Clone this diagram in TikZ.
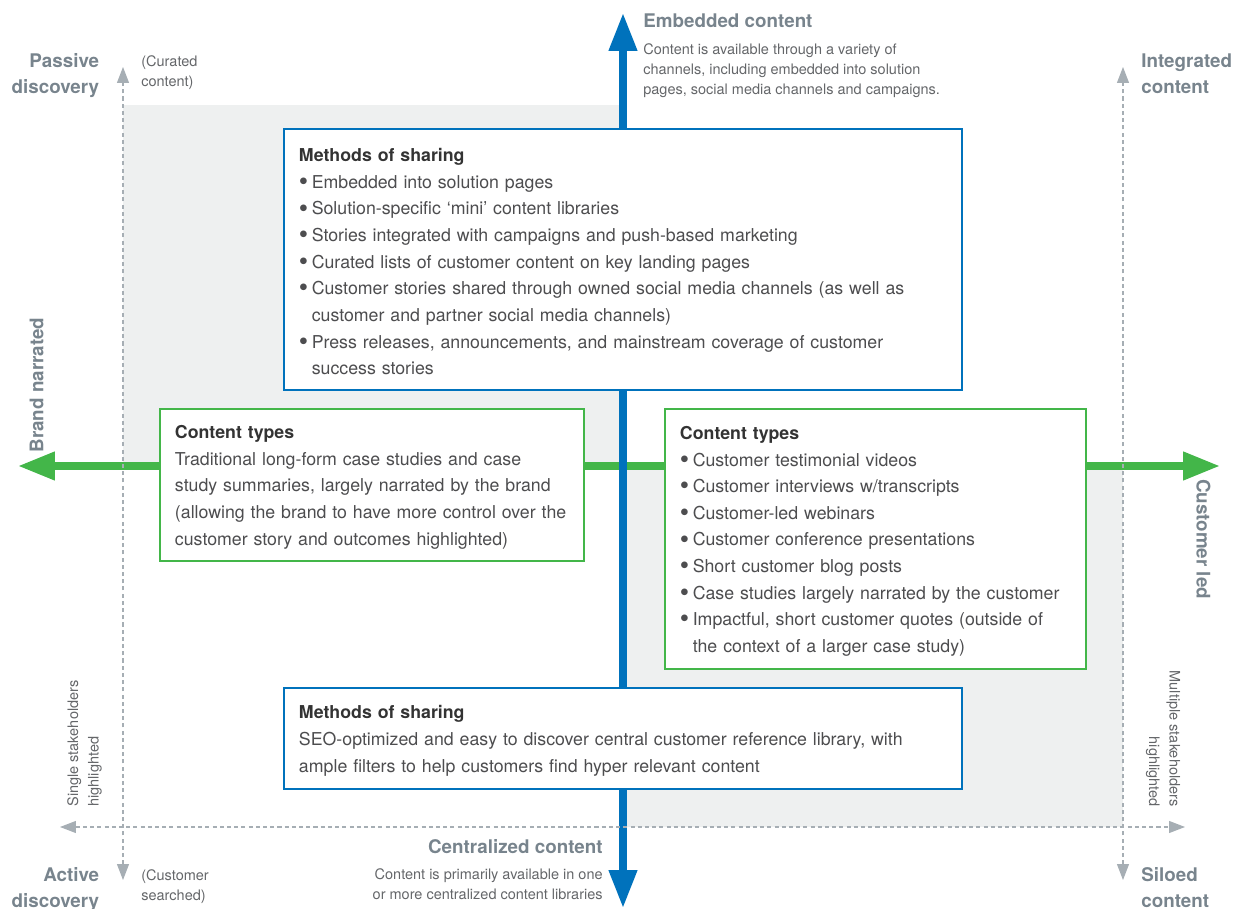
\documentclass[tikz,border=0pt]{standalone}
\usepackage{fontspec}
\setmainfont{TeX Gyre Heros}
\usetikzlibrary{arrows.meta}

\definecolor{shareblue}{RGB}{0,114,188}
\definecolor{typegreen}{RGB}{67,182,73}
\definecolor{quadgray}{RGB}{238,240,240}
\definecolor{guidegray}{RGB}{166,174,180}
\definecolor{axislabel}{RGB}{120,132,141}
\definecolor{notetext}{RGB}{100,102,105}
\definecolor{bodytext}{RGB}{77,77,79}
\definecolor{headtext}{RGB}{51,51,51}

\newcommand{\bul}{\makebox[0.72em][l]{\raisebox{-1.2pt}{\scalebox{1.5}{\textbullet}}}}
\newcommand{\bulskip}{\hspace*{0.72em}}
\newcommand{\boxtitle}[1]{\rule{0pt}{1em}\textcolor{headtext}{\bfseries #1}}

\tikzset{
	axis label/.style={text=axislabel, inner sep=0pt, font=\fontsize{10.7}{14.8}\selectfont\bfseries},
	note/.style={text=notetext, inner sep=0pt, font=\fontsize{8.25}{11.6}\selectfont},
	textbox/.style={draw, line width=1.3pt, fill=white, inner xsep=0.3cm, inner ysep=0pt,
		align=left, text=bodytext, font=\fontsize{10.1}{15.15}\selectfont},
	sharebox/.style={textbox, draw=shareblue},
	typebox/.style={textbox, draw=typegreen},
	shareaxis/.style={shareblue, line width=0.15cm,
		{Triangle[length=0.76cm,width=0.54cm]}-{Triangle[length=0.76cm,width=0.54cm]}},
	typeaxis/.style={typegreen, line width=0.15cm,
		{Triangle[length=0.74cm,width=0.54cm]}-{Triangle[length=0.74cm,width=0.54cm]}},
	guide/.style={guidegray, line width=0.6pt, dash pattern=on 2.3pt off 1.8pt,
		{Triangle[length=0.32cm,width=0.24cm]}-{Triangle[length=0.32cm,width=0.24cm]}}
}

\begin{document}
\begin{tikzpicture}
	\useasboundingbox (-12.46,-8.86) rectangle (12.50,9.32);

%% Quadrant shading
	\fill[quadgray] (-10,0) rectangle (0,7.22);
	\fill[quadgray] (0,0) rectangle (10,-7.22);

%% Axis end points
	\coordinate (brandtip) at (-12.1,0);
	\coordinate (customertip) at (11.94,0);
	\coordinate (embeddedtip) at (0,9.06);
	\coordinate (centraltip) at (0,-8.84);
	\coordinate (passivetip) at (-10,7.98);
	\coordinate (activetip) at (-10,-8.28);
	\coordinate (integratedtip) at (10,7.98);
	\coordinate (siloedtip) at (10,-8.28);
	\coordinate (singletip) at (-11.26,-7.22);
	\coordinate (multipletip) at (11.24,-7.22);

%% Axes
	\draw[typeaxis] (brandtip) -- (customertip);
	\draw[shareaxis] (centraltip) -- (embeddedtip);
	\draw[guide] (activetip) -- (passivetip);
	\draw[guide] (siloedtip) -- (integratedtip);
	\draw[guide] (singletip) -- (multipletip);

%% Methods of sharing
	\draw (0,4.13) node[sharebox, minimum width=13.56cm, minimum height=5.22cm, text width=12.96cm] (embeddedshare) {%
		\boxtitle{Methods of sharing}\\
		\bul Embedded into solution pages\\
		\bul Solution-specific ‘mini’ content libraries\\
		\bul Stories integrated with campaigns and push-based marketing\\
		\bul Curated lists of customer content on key landing pages\\
		\bul Customer stories shared through owned social media channels (as well as\\
		\bulskip customer and partner social media channels)\\
		\bul Press releases, announcements, and mainstream coverage of customer\\
		\bulskip success stories};
	\draw (0,-5.45) node[sharebox, minimum width=13.56cm, minimum height=2.02cm, text width=12.96cm] (centralshare) {%
		\boxtitle{Methods of sharing}\\
		SEO-optimized and easy to discover central customer reference library, with\\
		ample filters to help customers find hyper relevant content};

%% Content types
	\draw (-5.02,-0.38) node[typebox, minimum width=8.48cm, minimum height=3.04cm, text width=7.88cm] (brandtypes) {%
		\boxtitle{Content types}\\
		Traditional long-form case studies and case\\
		study summaries, largely narrated by the brand\\
		(allowing the brand to have more control over the\\
		customer story and outcomes highlighted)};
	\draw (5.05,-1.46) node[typebox, minimum width=8.42cm, minimum height=5.2cm, text width=7.82cm] (customertypes) {%
		\boxtitle{Content types}\\
		\bul Customer testimonial videos\\
		\bul Customer interviews w/transcripts\\
		\bul Customer-led webinars\\
		\bul Customer conference presentations\\
		\bul Short customer blog posts\\
		\bul Case studies largely narrated by the customer\\
		\bul Impactful, short customer quotes (outside of\\
		\bulskip the context of a larger case study)};

%% Axis labels
	\draw (-10.47,8.26) node[axis label, anchor=north east, align=right] (passive) {Passive\\discovery};
	\draw (-9.64,8.22) node[note, anchor=north west, align=left] (curated) {(Curated\\content)};
	\draw (0.40,9.06) node[axis label, anchor=north west] (embedded) {Embedded content};
	\draw (0.40,8.46) node[note, anchor=north west, align=left] (embeddednote) {Content is available through a variety of\\channels, including embedded into solution\\pages, social media channels and campaigns.};
	\draw (10.36,8.26) node[axis label, anchor=north west, align=left] (integrated) {Integrated\\content};
	\draw (-11.73,1.62) node[axis label, rotate=90] (brand) {Brand narrated};
	\draw (11.61,-1.46) node[axis label, rotate=-90] (customer) {Customer led};
	\draw (-11.12,-6.82) node[note, rotate=90, anchor=north west, align=left] (single) {Single stakeholders\\highlighted};
	\draw (11.15,-6.82) node[note, rotate=-90, anchor=north east, align=right] (multiple) {Multiple stakeholders\\highlighted};
	\draw (-10.47,-8.02) node[axis label, anchor=north east, align=right] (active) {Active\\discovery};
	\draw (-9.64,-8.06) node[note, anchor=north west, align=left] (searched) {(Customer\\searched)};
	\draw (-0.40,-7.46) node[axis label, anchor=north east] (centralized) {Centralized content};
	\draw (-0.40,-8.04) node[note, anchor=north east, align=right] (centralizednote) {Content is primarily available in one\\or more centralized content libraries};
	\draw (10.36,-8.02) node[axis label, anchor=north west, align=left] (siloed) {Siloed\\content};
\end{tikzpicture}
\end{document}
